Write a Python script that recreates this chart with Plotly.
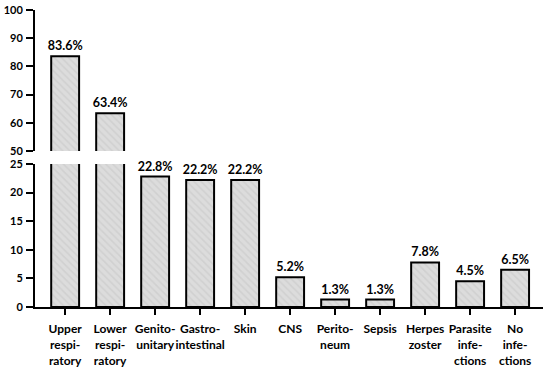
import plotly.graph_objects as go

categories = ["Upper<br>respi-<br>ratory", "Lower<br>respi-<br>ratory", "Genito-<br>unitary",
              "Gastro-<br>intestinal", "Skin", "CNS", "Perito-<br>neum", "Sepsis",
              "Herpes<br>zoster", "Parasite<br>infe-<br>ctions", "No<br>infe-<br>ctions"]
values = [83.6, 63.4, 22.8, 22.2, 22.2, 5.2, 1.3, 1.3, 7.8, 4.5, 6.5]
upper_ticks = [50, 60, 70, 80, 90, 100]
lower_ticks = [0, 5, 10, 15, 20, 25]

FONT = "Lato"
labels = [f"{v}%" for v in values]
upper_text = [t if v > 50 else "" for t, v in zip(labels, values)]
lower_text = [t if v <= 25 else "" for t, v in zip(labels, values)]

marker = dict(color="#d9d9d9",
              pattern=dict(shape="\\", fgcolor="#c4c4c4", bgcolor="#dcdcdc", size=5, solidity=0.3),
              line=dict(color="black", width=2))

fig = go.Figure()
fig.add_trace(go.Bar(x=categories, y=values, text=upper_text, textposition="outside",
                     constraintext="none",
                     textfont=dict(family=FONT, size=12.5, color="black", weight="bold"),
                     marker=marker, width=0.62, xaxis="x2", yaxis="y2", cliponaxis=True,
                     showlegend=False))
fig.add_trace(go.Bar(x=categories, y=values, text=lower_text, textposition="outside",
                     constraintext="none",
                     textfont=dict(family=FONT, size=12.5, color="black", weight="bold"),
                     marker=marker, width=0.62, xaxis="x", yaxis="y", cliponaxis=False,
                     showlegend=False))

axis_common = dict(showline=True, linecolor="black", linewidth=2, ticks="outside",
                   ticklen=7, tickwidth=2, tickcolor="black", showgrid=False, zeroline=False,
                   automargin=False, ticklabelstandoff=1,
                   tickfont=dict(family=FONT, size=11, color="black", weight="bold"))

fig.update_layout(
    width=550, height=371,
    margin=dict(l=35, r=7, t=10, b=64),
    plot_bgcolor="white", paper_bgcolor="white",
    uniformtext=dict(mode=False),
    xaxis=dict(domain=[0, 1], range=[-0.67, 10.62], anchor="y", tickangle=0,
               automargin=False, ticklabelstandoff=4,
               showline=True, linecolor="black", linewidth=2, ticks="outside", ticklen=6,
               tickwidth=2, tickcolor="black",
               tickfont=dict(family=FONT, size=12, color="black", weight="bold")),
    xaxis2=dict(domain=[0, 1], range=[-0.67, 10.62], anchor="y2", visible=False,
                matches="x"),
    yaxis=dict(domain=[0, 0.4815], range=[0, 25], tickvals=lower_ticks, anchor="x",
               **axis_common),
    yaxis2=dict(domain=[0.525, 1], range=[50, 100], tickvals=upper_ticks, anchor="x2",
                **axis_common),
)

fig.write_html("out.html", config={"displayModeBar": False},
               post_script="document.body.style.margin='0';")
